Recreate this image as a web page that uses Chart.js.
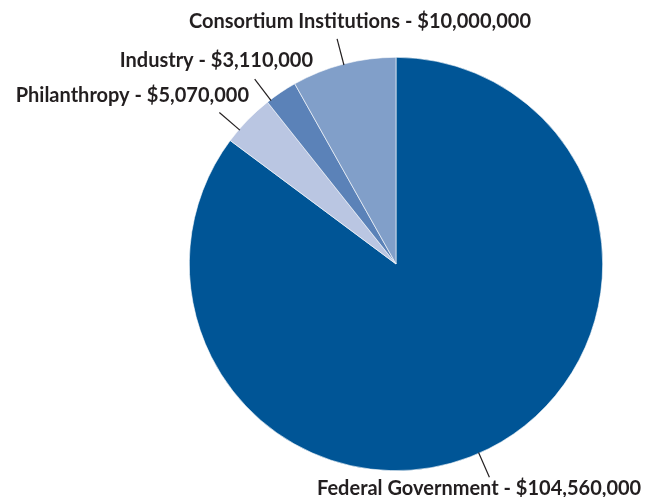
<!DOCTYPE html>
<html lang="en">
<head>
    <meta charset="UTF-8">
    <title>Funding Sources</title>
    <script src="https://cdn.jsdelivr.net/npm/chart.js"></script>
    <style>
      body { margin: 0; background: #fff; }
    </style>
</head>
<body>
    <canvas id="pieChart" width="647" height="497"></canvas>

    <script>
        // data
        const categories = ['Federal Government', 'Philanthropy', 'Industry', 'Consortium Institutions'];
        const amounts = [104560000, 5070000, 3110000, 10000000];
        const sliceColors = ['#005596', '#bac6e2', '#5b82b8', '#819fc9'];

        // label placement: text anchor, alignment and leader angle nudge (deg)
        const labelPos = [
            { x: 317, y: 495, align: 'left', nudge: 3 },
            { x: 249, y: 102, align: 'right', nudge: -3.5 },
            { x: 313, y: 67, align: 'right', nudge: -3.5 },
            { x: 360, y: 28, align: 'center', nudge: 0 }
        ];

        function money(v) {
            return '$' + v.toLocaleString('en-US');
        }

        const leaderLabels = {
            id: 'leaderLabels',
            afterDatasetsDraw(chart) {
                const ctx = chart.ctx;
                const arcs = chart.getDatasetMeta(0).data;
                ctx.save();
                ctx.strokeStyle = '#231f20';
                ctx.lineWidth = 1.2;
                ctx.fillStyle = '#231f20';
                ctx.font = 'bold 20px Lato';
                ctx.textBaseline = 'alphabetic';
                arcs.forEach((arc, i) => {
                    const p = labelPos[i];
                    const mid = (arc.startAngle + arc.endAngle) / 2 + p.nudge * Math.PI / 180;
                    const r = arc.outerRadius;
                    const x1 = arc.x + Math.cos(mid) * (r - 1);
                    const y1 = arc.y + Math.sin(mid) * (r - 1);
                    const x2 = arc.x + Math.cos(mid) * (r + 26);
                    const y2 = arc.y + Math.sin(mid) * (r + 26);
                    ctx.beginPath();
                    ctx.moveTo(x1, y1);
                    ctx.lineTo(x2, y2);
                    ctx.stroke();
                    ctx.textAlign = p.align;
                    ctx.fillText(categories[i] + ' - ' + money(amounts[i]), p.x, p.y);
                });
                ctx.restore();
            }
        };

        const ctx = document.getElementById('pieChart').getContext('2d');
        const pieChart = new Chart(ctx, {
            type: 'pie',
            data: {
                labels: categories,
                datasets: [{
                    data: amounts,
                    backgroundColor: sliceColors,
                    borderColor: '#ffffff',
                    borderWidth: 0.6
                }]
            },
            options: {
                responsive: false,
                animation: false,
                layout: {
                    padding: { left: 189, right: 44, top: 57, bottom: 26 }
                },
                plugins: {
                    legend: { display: false },
                    tooltip: { enabled: false }
                }
            },
            plugins: [leaderLabels]
        });
    </script>
</body>
</html>
